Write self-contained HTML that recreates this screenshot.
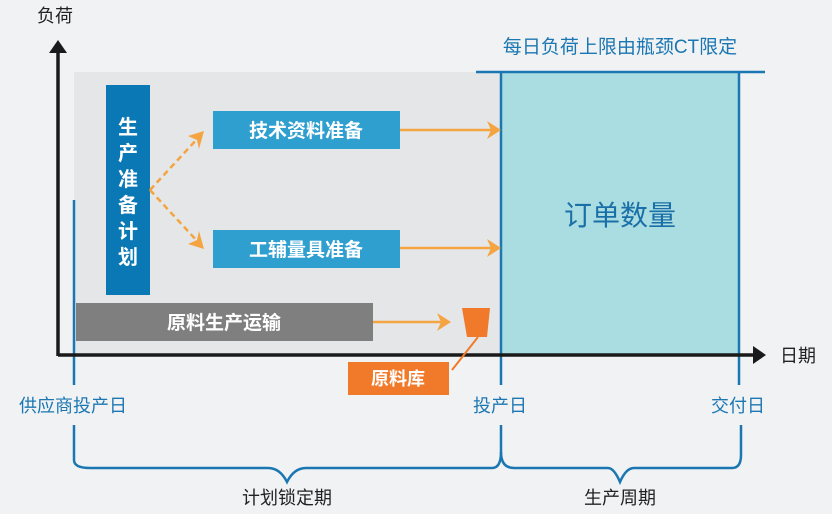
<!DOCTYPE html>
<html><head><meta charset="utf-8"><style>
html,body{margin:0;padding:0;background:#f1f2f4;}
svg{display:block}
text{font-family:"Liberation Sans","Noto Sans CJK SC",sans-serif;}
</style></head><body>
<svg width="832" height="514" viewBox="0 0 832 514" xmlns="http://www.w3.org/2000/svg">
<rect width="832" height="514" fill="#f1f2f4"/>
<rect x="74" y="72" width="427" height="283" fill="#e5e6e8"/>
<rect x="501" y="72" width="238" height="283" fill="#a9dde1"/>
<!-- blue lines -->
<g stroke="#1b77b2" stroke-width="2.5" fill="none">
<line x1="476" y1="72" x2="765" y2="72"/>
<line x1="501" y1="72" x2="501" y2="385"/>
<line x1="739" y1="72" x2="739" y2="385"/>
<line x1="74" y1="200" x2="74" y2="385"/>
<path d="M74 425 V460 Q74 468 90 468 H268 Q280 468 287 482 Q294 468 306 468 H492 Q501 468 501 452 V425"/>
<path d="M501 452 Q501 468 514 468 H608 Q614 468 620 482 Q626 468 634 468 H732 Q741 468 741 455 V425"/>
</g>
<!-- axes -->
<g stroke="#1a1a1a" stroke-width="3.5" fill="none">
<line x1="58" y1="50" x2="58" y2="356"/>
<line x1="58" y1="355" x2="756" y2="355"/>
</g>
<polygon points="58,40 49,53 67,53" fill="#1a1a1a"/>
<polygon points="766,355 753,346 753,364" fill="#1a1a1a"/>
<text x="37" y="22" font-size="18" fill="#222">负荷</text>
<text x="780" y="362" font-size="18" fill="#222">日期</text>
<text x="620" y="53" font-size="19" fill="#1b77b2" text-anchor="middle">每日负荷上限由瓶颈CT限定</text>
<text x="620" y="225" font-size="28" fill="#1b6fa8" text-anchor="middle">订单数量</text>
<!-- boxes -->
<rect x="106" y="85" width="44" height="210" fill="#0b78b6"/>
<g font-size="20" font-weight="bold" fill="#fff" text-anchor="middle">
<text x="128" y="134">生</text><text x="128" y="160">产</text><text x="128" y="186">准</text>
<text x="128" y="212">备</text><text x="128" y="238">计</text><text x="128" y="264">划</text>
</g>
<rect x="213" y="111" width="187" height="38" fill="#2e9fcf"/>
<rect x="213" y="230" width="187" height="38" fill="#2e9fcf"/>
<text x="306" y="137" font-size="19" font-weight="bold" fill="#fff" text-anchor="middle">技术资料准备</text>
<text x="306" y="256" font-size="19" font-weight="bold" fill="#fff" text-anchor="middle">工辅量具准备</text>
<rect x="76" y="303" width="297" height="38" fill="#7f7f80"/>
<text x="224" y="329" font-size="19" font-weight="bold" fill="#fff" text-anchor="middle">原料生产运输</text>
<!-- arrows -->
<g stroke="#f4a440" stroke-width="2.5" fill="none">
<line x1="400" y1="130" x2="492" y2="130"/>
<line x1="400" y1="248" x2="492" y2="248"/>
<line x1="373" y1="322" x2="442" y2="322"/>
<path d="M150 190 L198 138 M150 190 L198 242" stroke-dasharray="6,4"/>
</g>
<g fill="#f4a440">
<polygon points="501,130 487,121 491,130 487,139"/>
<polygon points="501,248 487,239 491,248 487,257"/>
<polygon points="451,322 437,313 441,322 437,331"/>
<polygon points="204,131 188,136 197,140 199,149"/>
<polygon points="204,249 188,244 197,240 199,231"/>
</g>
<!-- bucket -->
<polygon points="462,308 490,308 487,337 467,337" fill="#f07a2a"/>
<line x1="478" y1="337" x2="452" y2="370" stroke="#f07a2a" stroke-width="2"/>
<rect x="348" y="362" width="101" height="33" fill="#f07a2a"/>
<text x="398" y="385" font-size="18" font-weight="bold" fill="#fff" text-anchor="middle">原料库</text>
<g font-size="18" fill="#1b77b2" text-anchor="middle">
<text x="73" y="412">供应商投产日</text>
<text x="500" y="412">投产日</text>
<text x="738" y="412">交付日</text>
</g>
<g font-size="18" fill="#222" text-anchor="middle">
<text x="287" y="504">计划锁定期</text>
<text x="620" y="504">生产周期</text>
</g>
</svg>
</body></html>
